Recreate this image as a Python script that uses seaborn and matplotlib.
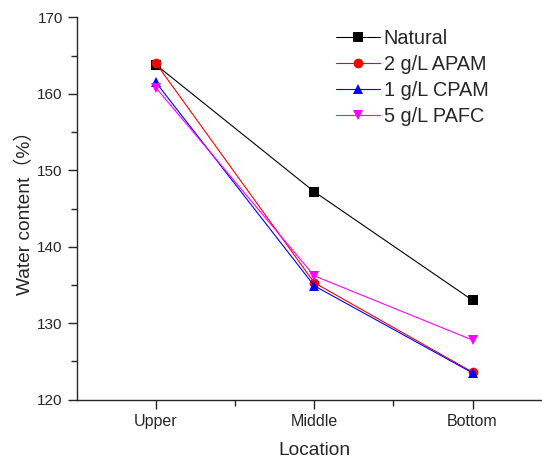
import matplotlib
matplotlib.use('Agg')
import matplotlib.pyplot as plt
from matplotlib.ticker import MultipleLocator, FixedLocator
import seaborn as sns
import pandas as pd

# Data
locations = ['Upper', 'Middle', 'Bottom']
natural = [163.8, 147.2, 133.0]
apam_2gl = [164.0, 135.3, 123.6]
cpam_1gl = [161.5, 134.9, 123.5]
pafc_5gl = [160.8, 136.2, 127.8]

series_names = ['Natural', '2 g/L APAM', '1 g/L CPAM', '5 g/L PAFC']
series_values = [natural, apam_2gl, cpam_1gl, pafc_5gl]

rows = []
for name, vals in zip(series_names, series_values):
    for loc, v in zip(locations, vals):
        rows.append({'Location': loc, 'Water content': v, 'Series': name})
df = pd.DataFrame(rows)

sns.set_style('ticks')
plt.rcParams['font.family'] = ['Liberation Sans', 'Noto Sans CJK SC', 'DejaVu Sans']
plt.rcParams['xtick.direction'] = 'out'
plt.rcParams['ytick.direction'] = 'out'

fig = plt.figure(figsize=(5.42, 4.59), dpi=100)
ax = fig.add_axes([0.1415, 0.1292, 0.8764, 0.8331])

palette = {'Natural': 'black', '2 g/L APAM': 'red',
           '1 g/L CPAM': 'blue', '5 g/L PAFC': '#ff00ff'}
markers = {'Natural': 's', '2 g/L APAM': 'o',
           '1 g/L CPAM': '^', '5 g/L PAFC': 'v'}

sns.lineplot(data=df, x='Location', y='Water content', hue='Series',
             style='Series', hue_order=series_names, style_order=series_names,
             palette=palette, markers=markers, dashes=False,
             linewidth=0.8, markersize=7, markeredgewidth=0, ax=ax)

ax.set_xlim(-0.5, 2.5)
ax.set_ylim(120, 170)
ax.yaxis.set_major_locator(MultipleLocator(10))
ax.yaxis.set_minor_locator(MultipleLocator(5))
ax.xaxis.set_minor_locator(FixedLocator([0.5, 1.5]))
ax.tick_params(which='major', length=6.5, width=1, labelsize=11)
ax.tick_params(which='minor', length=4, width=1)
ax.tick_params(axis='x', pad=4, labelsize=11.5)

for s in ['top', 'right']:
    ax.spines[s].set_visible(False)
for s in ['left', 'bottom']:
    ax.spines[s].set_linewidth(1.0)

ax.set_xlabel('Location', fontsize=13.8)
ax.set_ylabel('Water content（%）', fontsize=13.8)
ax.yaxis.set_label_coords(-0.09, 0.5)
ax.xaxis.set_label_coords(0.5, -0.11)

leg = ax.legend(loc='upper left', bbox_to_anchor=(0.62, 0.937),
                bbox_transform=fig.transFigure, frameon=False,
                fontsize=14.3, handlelength=2.2, handletextpad=0.2,
                labelspacing=0.36, borderpad=0, borderaxespad=0)

fig.savefig('out.png', dpi=100)
